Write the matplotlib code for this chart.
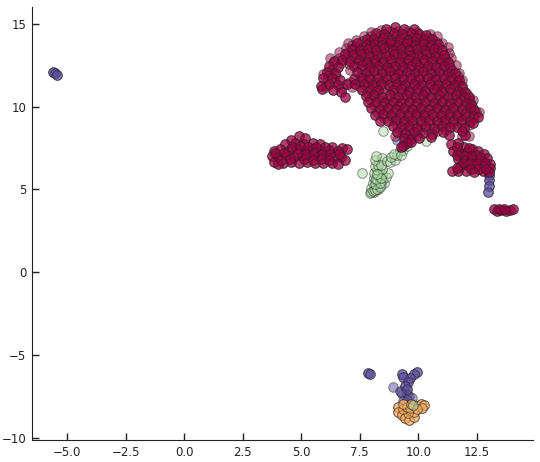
import matplotlib
matplotlib.use('Agg')
import matplotlib.pyplot as plt

# cluster points (x, y)
red_main = [
    (8.6,14.7),(9.0,14.78),(9.4,14.7),(9.8,14.65),
    (8.2,14.45),(8.55,14.35),(8.95,14.45),(9.3,14.35),(9.7,14.42),(10.05,14.35),(10.35,14.3),
    (7.8,14.1),(8.1,14.05),(8.5,14.12),(8.85,14.0),(9.2,14.1),(9.55,14.02),(9.9,14.12),(10.25,14.0),(10.6,14.1),
    (7.4,13.8),(7.75,13.72),(8.1,13.78),(8.45,13.7),(8.8,13.82),(9.15,13.72),(9.5,13.8),(9.85,13.7),(10.2,13.78),(10.55,13.7),(10.85,13.75),
    (7.15,13.45),(7.5,13.4),(7.85,13.48),(8.2,13.4),(8.55,13.5),(8.9,13.4),(9.25,13.45),(9.6,13.38),(9.95,13.47),(10.3,13.4),(10.65,13.45),(11.0,13.4),
    (6.85,13.15),(7.2,13.08),(7.55,13.15),(7.9,13.05),(8.25,13.12),(8.6,13.05),(8.95,13.15),(9.3,13.05),(9.65,13.12),(10.0,13.05),(10.35,13.15),(10.7,13.05),(11.1,13.1),
    (6.4,12.75),(6.75,12.8),(7.1,12.72),(7.45,12.8),(7.8,12.7),(8.15,12.78),(8.5,12.7),(8.85,12.8),(9.2,12.7),(9.55,12.78),(9.9,12.7),(10.25,12.8),(10.6,12.72),(10.95,12.78),(11.25,12.7),
    (6.2,12.45),(6.55,12.4),(7.25,12.42),(7.6,12.48),(7.95,12.38),(8.3,12.45),(8.65,12.38),(9.0,12.47),(9.35,12.38),(9.7,12.45),(10.05,12.38),(10.4,12.47),(10.75,12.38),(11.1,12.45),(11.35,12.35),
    (6.1,12.1),(6.45,12.05),(7.4,12.1),(7.75,12.03),(8.1,12.12),(8.45,12.05),(8.8,12.12),(9.15,12.03),(9.5,12.1),(9.85,12.05),(10.2,12.12),(10.55,12.03),(10.9,12.1),(11.25,12.05),(11.55,12.05),
    (5.95,11.7),(6.3,11.75),(6.65,11.6),(7.25,11.65),(7.6,11.75),(7.95,11.68),(8.3,11.75),(8.65,11.68),(9.0,11.75),(9.35,11.68),(9.7,11.75),(10.05,11.68),(10.4,11.75),(10.75,11.68),(11.1,11.75),(11.45,11.68),(11.75,11.6),
    (5.85,11.25),(6.2,11.35),(6.55,11.3),(6.95,11.35),(7.3,11.35),(7.7,11.38),(8.05,11.32),(8.4,11.38),(8.75,11.3),(9.1,11.38),(9.45,11.3),(9.8,11.38),(10.15,11.3),(10.5,11.38),(10.85,11.3),(11.2,11.38),(11.55,11.3),(11.85,11.25),
    (5.9,11.05),(6.35,10.98),(6.7,10.85),(7.6,11.0),(7.95,10.98),(8.3,11.02),(8.9,10.98),(9.25,11.03),(9.6,10.95),(9.95,11.03),(10.3,10.95),(10.65,11.03),(11.0,10.95),(11.35,11.03),(11.7,10.95),(12.0,10.9),
    (6.85,10.6),(7.75,10.62),(8.1,10.68),(8.45,10.6),(8.8,10.68),(9.15,10.6),(9.5,10.68),(9.85,10.6),(10.2,10.68),(10.55,10.6),(10.9,10.68),(11.25,10.6),(11.6,10.68),(11.95,10.6),(12.15,10.55),
    (7.85,10.25),(8.2,10.3),(8.55,10.22),(8.9,10.3),(9.25,10.22),(9.6,10.3),(9.95,10.22),(10.3,10.3),(10.65,10.22),(11.0,10.3),(11.35,10.22),(11.7,10.3),(12.05,10.22),(12.25,10.15),
    (8.0,9.9),(8.35,9.85),(8.7,9.92),(9.05,9.85),(9.4,9.92),(9.75,9.85),(10.1,9.92),(10.45,9.85),(10.8,9.92),(11.15,9.85),(11.5,9.92),(11.85,9.85),(12.2,9.9),(12.4,9.8),
    (8.15,9.5),(8.5,9.55),(8.85,9.48),(9.2,9.55),(9.55,9.48),(9.9,9.55),(10.25,9.48),(10.6,9.55),(10.95,9.48),(11.3,9.55),(11.65,9.48),(12.0,9.55),(12.35,9.45),(12.55,9.35),
    (8.35,9.15),(8.7,9.1),(9.05,9.18),(9.4,9.1),(9.75,9.18),(10.1,9.1),(10.45,9.18),(10.8,9.1),(11.15,9.18),(11.5,9.1),(11.85,9.18),(12.2,9.1),(12.35,9.0),
    (8.9,8.8),(9.25,8.75),(9.6,8.8),(9.95,8.72),(10.3,8.8),(10.65,8.72),(11.0,8.8),(11.35,8.75),(11.65,8.75),(11.95,8.7),(12.0,8.3),(11.85,8.55),
    (9.1,8.45),(9.45,8.4),(9.8,8.45),(10.2,8.4),(10.6,8.35),(11.05,8.45),(11.3,8.3),(10.55,8.15),
    (9.4,8.1),(9.7,8.05),(10.05,8.1),(9.5,7.8),(9.35,7.65),(9.25,7.55),(9.7,7.85),
]
# second pass of points in the gaps of the big cluster
red_gaps = [
    (8.8,14.55),(9.15,14.55),(9.55,14.55),(9.95,14.5),(8.0,14.25),(8.35,14.25),(8.7,14.22),(9.05,14.25),(9.45,14.2),(9.8,14.25),(10.15,14.2),(10.45,14.15),
    (7.6,13.95),(7.95,13.92),(8.3,13.9),(8.65,13.92),(9.0,13.88),(9.35,13.92),(9.7,13.88),(10.05,13.92),(10.4,13.88),(10.75,13.9),
    (7.3,13.6),(7.65,13.58),(8.0,13.62),(8.35,13.58),(8.7,13.62),(9.05,13.58),(9.4,13.62),(9.75,13.58),(10.1,13.62),(10.45,13.58),(10.85,13.55),
    (7.0,13.28),(7.35,13.25),(7.7,13.28),(8.05,13.25),(8.4,13.28),(8.75,13.25),(9.1,13.28),(9.45,13.25),(9.8,13.28),(10.15,13.25),(10.5,13.28),(10.85,13.25),
    (6.6,12.95),(6.95,12.95),(7.35,12.92),(7.7,12.95),(8.05,12.9),(8.4,12.95),(8.75,12.9),(9.1,12.95),(9.45,12.9),(9.8,12.95),(10.15,12.9),(10.5,12.95),(10.85,12.9),(11.15,12.9),
    (6.35,12.6),(6.7,12.6),(7.05,12.55),(7.45,12.62),(7.8,12.55),(8.15,12.6),(8.5,12.55),(8.85,12.62),(9.2,12.55),(9.55,12.62),(9.9,12.55),(10.25,12.62),(10.6,12.55),(10.95,12.62),(11.3,12.55),
    (6.3,12.25),(7.1,12.2),(7.55,12.28),(7.9,12.22),(8.25,12.28),(8.6,12.22),(8.95,12.28),(9.3,12.22),(9.65,12.28),(10.0,12.22),(10.35,12.28),(10.7,12.22),(11.05,12.28),(11.45,12.22),
    (6.15,11.9),(6.5,11.88),(7.55,11.9),(7.9,11.86),(8.25,11.92),(8.6,11.86),(8.95,11.92),(9.3,11.86),(9.65,11.92),(10.0,11.86),(10.35,11.92),(10.7,11.86),(11.05,11.92),(11.4,11.86),(11.7,11.85),
    (6.1,11.52),(6.45,11.5),(7.1,11.5),(7.45,11.52),(7.8,11.54),(8.15,11.5),(8.5,11.54),(8.85,11.5),(9.2,11.54),(9.55,11.5),(9.9,11.54),(10.25,11.5),(10.6,11.54),(10.95,11.5),(11.3,11.54),(11.65,11.5),
    (6.05,11.15),(6.75,11.1),(7.15,11.15),(7.5,11.18),(7.85,11.15),(8.2,11.2),(8.55,11.15),(9.0,11.2),(9.3,11.15),(9.7,11.2),(10.05,11.15),(10.4,11.2),(10.75,11.15),(11.1,11.2),(11.45,11.15),(11.85,11.1),
    (7.8,10.8),(8.15,10.85),(8.5,10.8),(8.95,10.82),(9.3,10.85),(9.65,10.8),(10.0,10.85),(10.35,10.8),(10.75,10.85),(11.1,10.8),(11.45,10.85),(11.8,10.8),(12.1,10.75),
    (7.95,10.45),(8.3,10.48),(8.65,10.45),(9.0,10.48),(9.35,10.45),(9.7,10.48),(10.05,10.45),(10.4,10.48),(10.75,10.45),(11.1,10.48),(11.45,10.45),(11.8,10.48),(12.15,10.4),
    (8.1,10.08),(8.45,10.05),(8.8,10.08),(9.15,10.05),(9.5,10.08),(9.85,10.05),(10.2,10.08),(10.55,10.05),(10.9,10.08),(11.25,10.05),(11.6,10.08),(11.95,10.05),(12.3,10.02),
    (8.25,9.7),(8.6,9.72),(8.95,9.7),(9.3,9.72),(9.65,9.7),(10.0,9.72),(10.35,9.7),(10.7,9.72),(11.05,9.7),(11.4,9.72),(11.75,9.7),(12.1,9.72),(12.45,9.65),
    (8.55,9.32),(8.9,9.32),(9.25,9.35),(9.6,9.32),(9.95,9.35),(10.3,9.32),(10.65,9.35),(11.0,9.32),(11.35,9.35),(11.7,9.32),(12.05,9.35),(12.4,9.28),
    (9.05,8.95),(9.4,8.95),(9.75,8.92),(10.1,8.95),(10.5,8.92),(10.85,8.95),(11.2,8.92),(11.5,8.95),(11.85,8.92),(12.15,8.9),
    (9.3,8.58),(9.65,8.6),(10.0,8.58),(10.4,8.58),(10.8,8.55),(11.2,8.6),(9.55,8.22),(9.9,8.25),(9.4,7.95),
]
# outer rim of the big cluster, thinner coverage
red_rim = [
    (7.0,13.85),(7.15,13.7),(7.35,14.0),(7.7,14.25),(8.0,14.5),(8.4,14.6),(6.6,13.3),(6.9,13.5),
    (11.25,13.6),(11.3,13.25),(11.0,13.8),(10.8,14.25),(10.5,14.4),(11.4,12.9),(11.75,12.0),(11.85,11.6),(11.6,12.5),
    (6.25,12.9),(5.95,11.95),(12.35,10.4),(12.6,9.7),(12.15,8.2),(11.85,8.2),(9.0,8.2),
]
red_left = [
    (4.9,8.25),(5.15,8.1),(4.55,8.0),(4.3,7.75),(4.75,7.8),(5.1,7.75),(5.5,7.8),(5.8,7.75),(6.3,7.55),(6.75,7.5),(6.95,7.45),
    (3.85,7.35),(4.1,7.45),(4.45,7.35),(4.8,7.45),(5.15,7.35),(5.5,7.42),(5.85,7.35),(6.2,7.4),(6.55,7.3),
    (3.75,7.0),(4.0,6.95),(4.35,7.05),(4.7,6.95),(5.05,7.02),(5.4,6.95),(5.75,7.02),(6.1,6.95),(6.4,6.98),(6.7,6.95),(6.85,6.75),
    (3.85,6.65),(4.2,6.6),(4.55,6.68),(4.9,6.6),(5.25,6.66),(5.6,6.62),(5.95,6.6),(6.3,6.6),(6.55,6.55),(4.0,6.55),(5.1,6.85),(3.9,7.2),
    (4.25,7.2),(4.6,7.55),(4.95,7.6),(5.3,7.58),(5.65,7.55),(6.0,7.55),(4.5,6.85),(4.85,7.2),(5.2,7.15),(5.55,7.2),(5.9,7.15),(6.25,7.15),(6.6,7.12),
    (4.15,6.8),(5.5,6.8),(5.85,6.82),(6.2,6.8),
]
red_right = [
    (11.4,7.75),(11.7,7.8),(11.95,7.55),(12.3,7.45),(12.55,7.35),
    (11.5,7.35),(11.8,7.2),(12.1,7.25),(12.45,7.1),(12.8,7.15),(12.95,6.9),
    (11.7,6.85),(12.0,6.8),(12.3,6.75),(12.65,6.75),(13.05,6.55),
    (11.8,6.4),(12.1,6.45),(12.45,6.4),(12.8,6.4),(13.05,6.3),
    (11.45,6.1),(11.7,6.1),(12.05,6.1),(12.4,6.05),(12.75,6.1),(13.0,6.05),
    (11.65,7.55),(12.15,7.5),(11.65,7.05),(11.95,7.0),(12.25,7.0),(12.65,6.95),(11.9,6.6),(12.2,6.6),(12.5,6.58),(12.85,6.6),(11.65,6.28),(12.25,6.25),(12.6,6.25),(12.9,6.22),
]
red_tail = [(13.25,3.85),(13.35,3.7),(13.55,3.75),(13.75,3.7),(13.9,3.78),(14.05,3.8),(13.45,3.82),(13.65,3.85)]

green = [
    (7.95,4.8),(8.1,4.85),(8.3,5.0),(8.0,5.1),(8.2,5.2),(8.4,5.25),(8.55,5.4),(8.05,5.4),(8.25,5.5),
    (8.45,5.55),(8.6,5.75),(8.1,5.7),(8.3,5.8),(8.45,5.95),(8.7,6.0),(8.1,6.0),(8.25,6.2),(8.45,6.25),
    (8.15,6.4),(8.3,6.5),(8.15,6.75),(8.45,6.9),(8.2,7.0),(8.4,6.45),
    (8.65,6.7),(8.8,6.65),(9.0,6.75),(8.85,6.95),(9.1,7.05),(9.2,7.3),(8.95,7.15),(9.35,7.4),(9.25,7.05),(9.5,7.6),
    (7.6,6.0),(8.5,8.55),(10.35,7.9),
    (7.98,4.85),(8.05,4.9),(8.15,4.95),(8.25,5.05),(8.35,5.15),(8.15,5.35),(8.35,5.4),(8.2,5.65),(8.4,5.7),(8.25,5.95),
]
purple_far = [(-5.6,12.08),(-5.52,12.0),(-5.45,11.92)]
purple_small = [(7.85,-6.05),(7.92,-6.15)]
purple_main = [
    (9.93,-6.0),(9.8,-6.15),(9.65,-6.35),(9.3,-6.15),(9.35,-6.3),(9.57,-6.6),(9.45,-6.85),(9.5,-7.05),
    (8.93,-6.9),(9.2,-7.15),(9.3,-7.3),(9.5,-7.3),(9.6,-7.45),(9.75,-7.55),(9.35,-7.75),(9.5,-7.7),(9.25,-7.2),
    (13.0,5.9),(13.02,5.55),(13.0,5.2),(12.98,4.85),(9.1,8.0),
]
orange = [
    (9.15,-8.1),(9.15,-8.4),(9.3,-8.6),(9.45,-8.75),(9.6,-8.9),(9.8,-8.7),(9.8,-8.4),(9.55,-8.45),(9.35,-8.25),
    (9.5,-8.1),(9.65,-8.2),(9.35,-7.95),(9.7,-7.95),(10.0,-8.05),(10.1,-7.9),(10.25,-8.0),(10.15,-8.15),(9.95,-8.25),
]
green_low = [(9.76,-8.0)]

colors = {'red': '#9e0142', 'green': '#abdda4', 'purple': '#5e4fa2', 'orange': '#fdae61'}
x_ticks = [-5.0, -2.5, 0.0, 2.5, 5.0, 7.5, 10.0, 12.5]
y_ticks = [-10, -5, 0, 5, 10, 15]


def draw(ax, pts, col):
    xs = [p[0] for p in pts]
    ys = [p[1] for p in pts]
    ax.scatter(xs, ys, s=48, c=col, edgecolors='#222222', linewidths=0.7, alpha=0.5)


fig = plt.figure(figsize=(5.4, 4.62), dpi=100)
ax = fig.add_axes([32 / 540, 1 - 440 / 462, 501 / 540, 433 / 462])

draw(ax, purple_main + purple_far + purple_small, colors['purple'])
draw(ax, purple_far + purple_small + purple_main[:8] + purple_main[17:21], colors['purple'])
draw(ax, orange, colors['orange'])
draw(ax, orange, colors['orange'])
draw(ax, green, colors['green'])
draw(ax, green_low, colors['green'])
red_all = red_main + red_left + red_right + red_tail
draw(ax, red_rim, colors['red'])
draw(ax, red_all, colors['red'])
draw(ax, red_gaps, colors['red'])
draw(ax, red_all, colors['red'])

ax.set_xlim(-6.5, 14.9)
ax.set_ylim(-10.1, 16.0)
ax.set_xticks(x_ticks)
ax.set_yticks(y_ticks)
ax.tick_params(direction='in', length=5, width=1, labelsize=8.5, colors='#222222', pad=4)
ax.spines['top'].set_visible(False)
ax.spines['right'].set_visible(False)
ax.spines['left'].set_color('#222222')
ax.spines['bottom'].set_color('#222222')

fig.savefig('out.png', dpi=100)
